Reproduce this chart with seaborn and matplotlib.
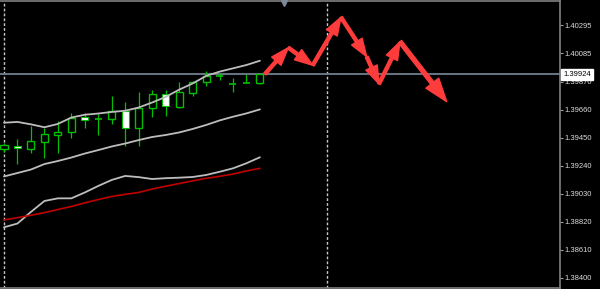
import numpy as np
import pandas as pd
import matplotlib
matplotlib.use("Agg")
import matplotlib.pyplot as plt
import seaborn as sns
from matplotlib.transforms import blended_transform_factory

# ---------------- data ----------------
opens  = [1.39365, 1.39390, 1.39363, 1.39420, 1.39472, 1.39490, 1.39603, 1.39590, 1.39587, 1.39650,
          1.39520, 1.39675, 1.39775, 1.39682, 1.39787, 1.39867, 1.39909, 1.39856, 1.39858, 1.39858]
highs  = [1.39410, 1.39440, 1.39540, 1.39520, 1.39575, 1.39633, 1.39633, 1.39625, 1.39765, 1.39720,
          1.39790, 1.39807, 1.39807, 1.39870, 1.39875, 1.39950, 1.39935, 1.39895, 1.39931, 1.39924]
lows   = [1.39343, 1.39253, 1.39337, 1.39295, 1.39333, 1.39445, 1.39520, 1.39470, 1.39552, 1.39390,
          1.39390, 1.39603, 1.39615, 1.39670, 1.39763, 1.39840, 1.39882, 1.39789, 1.39858, 1.39850]
closes = [1.39395, 1.39372, 1.39423, 1.39475, 1.39493, 1.39600, 1.39585, 1.39590, 1.39650, 1.39520,
          1.39675, 1.39775, 1.39690, 1.39790, 1.39865, 1.39910, 1.39909, 1.39856, 1.39858, 1.39924]

upper_band  = [1.39562, 1.39568, 1.39550, 1.39528, 1.39553, 1.39601, 1.39622, 1.39631, 1.39643, 1.39652,
               1.39676, 1.39714, 1.39755, 1.39810, 1.39856, 1.39913, 1.39945, 1.39970, 1.39995, 1.40027]
middle_band = [1.39159, 1.39185, 1.39211, 1.39252, 1.39275, 1.39301, 1.39331, 1.39357, 1.39384, 1.39406,
               1.39432, 1.39455, 1.39470, 1.39489, 1.39515, 1.39545, 1.39579, 1.39607, 1.39632, 1.39662]
lower_band  = [1.38778, 1.38806, 1.38893, 1.38975, 1.38995, 1.38995, 1.39039, 1.39088, 1.39133, 1.39163,
               1.39154, 1.39140, 1.39146, 1.39150, 1.39155, 1.39170, 1.39194, 1.39220, 1.39258, 1.39303]
red_ma      = [1.38833, 1.38850, 1.38868, 1.38888, 1.38911, 1.38934, 1.38961, 1.38986, 1.39009, 1.39025,
               1.39039, 1.39065, 1.39086, 1.39106, 1.39126, 1.39145, 1.39160, 1.39177, 1.39200, 1.39220]

forecast_x = [19.38, 21.11, 22.92, 25.02, 26.93, 27.84, 29.40, 32.87]
forecast_y = [1.39928, 1.40125, 1.39993, 1.40353, 1.40057, 1.39853, 1.40170, 1.39720]

bid_price = 1.39924
bid_label = "1.39924"
separators = [0, 24]
shift_marker_x = 20.8
tick_prices = [1.40295, 1.40085, 1.39870, 1.39660, 1.39450, 1.39240, 1.39030, 1.38820, 1.38610, 1.38400]
tick_labels = ["1.40295", "1.40085", "1.39870", "1.39660", "1.39450",
               "1.39240", "1.39030", "1.38820", "1.38610", "1.38400"]

# ---------------- style ----------------
sns.set_style("dark", rc={"axes.facecolor": "black", "figure.facecolor": "black",
                          "axes.edgecolor": "#808080", "grid.color": "black"})
plt.rcParams["font.family"] = ["Liberation Sans", "DejaVu Sans"]

GREEN = "#00c000"
fig = plt.figure(figsize=(6.0, 2.89), dpi=100)
ax = fig.add_axes([0.0, 1 / 289, 560 / 600, 287 / 289])
ax.set_facecolor("black")

idx = np.arange(len(opens))
df = pd.DataFrame({"i": idx, "upper": upper_band, "middle": middle_band,
                   "lower": lower_band, "ma": red_ma})

# separators and bid line
for s in separators:
    ax.axvline(s, color="#c8c8c8", lw=1.0, ls=(0, (2, 1.5)), zorder=1)
ax.axhline(bid_price, color="#6f7f8f", lw=1.3, zorder=1)

# candles
body_w = 0.52
o = np.array(opens); c = np.array(closes); h = np.array(highs); l = np.array(lows)
ax.vlines(idx, l, h, color=GREEN, lw=0.9, zorder=3)
bull = c > o
bear = c < o
doji = c == o
ax.bar(idx[bull], (c - o)[bull], bottom=o[bull], width=body_w, facecolor="black",
       edgecolor=GREEN, linewidth=1.0, zorder=4)
ax.bar(idx[bear], (o - c)[bear], bottom=c[bear], width=body_w, facecolor="white",
       edgecolor=GREEN, linewidth=0.8, zorder=4)
ax.hlines(o[doji], idx[doji] - body_w / 2, idx[doji] + body_w / 2, color=GREEN, lw=1.2, zorder=4)

# indicator lines
sns.lineplot(data=df, x="i", y="upper", ax=ax, color="#bdbdbd", lw=1.3, zorder=5)
sns.lineplot(data=df, x="i", y="middle", ax=ax, color="#bdbdbd", lw=1.3, zorder=5)
sns.lineplot(data=df, x="i", y="lower", ax=ax, color="#bdbdbd", lw=1.3, zorder=5)
sns.lineplot(data=df, x="i", y="ma", ax=ax, color="#c00000", lw=1.2, zorder=5)

# forecast arrows
for k in range(len(forecast_x) - 1):
    big = k == len(forecast_x) - 2
    ax.annotate("", xy=(forecast_x[k + 1], forecast_y[k + 1]),
                xytext=(forecast_x[k], forecast_y[k]),
                arrowprops=dict(arrowstyle="simple,head_length=1.3,head_width=0.9,tail_width=0.22",
                                color="#ff3c3c", mutation_scale=13 if big else 10,
                                shrinkA=0, shrinkB=0), zorder=6)

# axes limits and ticks
ax.set_xlim(-0.297, 41.28)
ax.set_ylim(1.383225, 1.40475)
ax.set_xlabel(""); ax.set_ylabel("")
ax.set_xticks([])
ax.yaxis.tick_right()
ax.set_yticks(tick_prices)
ax.set_yticklabels(tick_labels)
ax.tick_params(axis="y", which="both", right=True, left=False, length=2, width=0.8,
               color="#a0a0a0", labelcolor="#dcdcdc", labelsize=5.5, pad=1.5)
ax.grid(False)
for side in ["top", "bottom", "right"]:
    ax.spines[side].set_visible(True)
    ax.spines[side].set_color("#808080")
    ax.spines[side].set_linewidth(1.2)
ax.spines["left"].set_visible(False)

# chart shift marker
ax.plot([shift_marker_x], [1.40462], marker="v", color="#7a8a9a", markersize=5, zorder=7,
        clip_on=False)

# bid price label
trans = blended_transform_factory(ax.transAxes, ax.transData)
ax.text(1.006, bid_price, bid_label, transform=trans, ha="left", va="center",
        fontsize=5.5, color="black", zorder=10, clip_on=False,
        bbox=dict(boxstyle="square,pad=0.25", facecolor="white", edgecolor="white"))

fig.savefig("out.png", dpi=100, facecolor="black")
